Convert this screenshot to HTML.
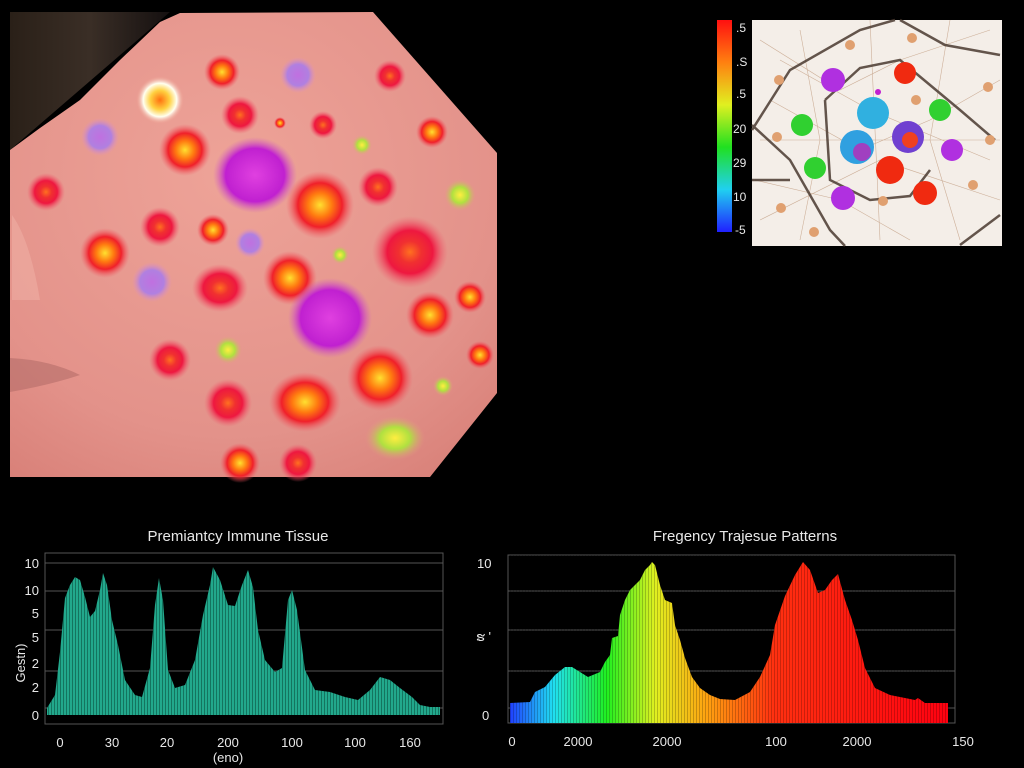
<!DOCTYPE html>
<html><head><meta charset="utf-8"><style>
html,body{margin:0;padding:0;background:#000;width:1024px;height:768px;overflow:hidden}
svg{display:block}
text{font-family:"Liberation Sans",sans-serif;fill:#e8e8e8}
</style></head><body>
<svg width="1024" height="768" viewBox="0 0 1024 768" xmlns="http://www.w3.org/2000/svg">
<defs>
<radialGradient id="skin" cx="0.45" cy="0.35" r="0.8">
<stop offset="0" stop-color="#eea398"/><stop offset="0.7" stop-color="#e3928a"/><stop offset="1" stop-color="#d88078"/></radialGradient>
<radialGradient id="gR"><stop offset="0" stop-color="#ffe030"/><stop offset="0.35" stop-color="#ff7a10"/><stop offset="0.65" stop-color="#f0202a"/><stop offset="1" stop-color="#f0606a" stop-opacity="0"/></radialGradient>
<radialGradient id="gRR"><stop offset="0" stop-color="#ff7020"/><stop offset="0.3" stop-color="#f03030"/><stop offset="0.6" stop-color="#ee1840"/><stop offset="1" stop-color="#f06070" stop-opacity="0"/></radialGradient>
<radialGradient id="gM"><stop offset="0" stop-color="#e040e0"/><stop offset="0.7" stop-color="#c020d0"/><stop offset="1" stop-color="#d060c0" stop-opacity="0"/></radialGradient>
<radialGradient id="gPu"><stop offset="0" stop-color="#c070e0"/><stop offset="0.6" stop-color="#b080e0"/><stop offset="1" stop-color="#e090c0" stop-opacity="0"/></radialGradient>
<radialGradient id="gG"><stop offset="0" stop-color="#ffee40"/><stop offset="0.5" stop-color="#b0e040"/><stop offset="1" stop-color="#e0a080" stop-opacity="0"/></radialGradient>
<radialGradient id="gW"><stop offset="0" stop-color="#ff7010"/><stop offset="0.4" stop-color="#ffd040"/><stop offset="0.7" stop-color="#fffff0"/><stop offset="1" stop-color="#f0a090" stop-opacity="0"/></radialGradient>
<linearGradient id="hair" x1="0" y1="0" x2="1" y2="0"><stop offset="0" stop-color="#2a2018"/><stop offset="0.5" stop-color="#3a2e26"/><stop offset="1" stop-color="#151010"/></linearGradient>
<linearGradient id="spec" x1="510" x2="950" y1="0" y2="0" gradientUnits="userSpaceOnUse">
<stop offset="0" stop-color="#2040ff"/><stop offset="0.1" stop-color="#20e0f0"/><stop offset="0.22" stop-color="#20f020"/><stop offset="0.33" stop-color="#e0f020"/><stop offset="0.45" stop-color="#ffa010"/><stop offset="0.6" stop-color="#ff3010"/><stop offset="1" stop-color="#ff0010"/></linearGradient>
<linearGradient id="cb" x1="0" x2="0" y1="0" y2="1">
<stop offset="0" stop-color="#ff1010"/><stop offset="0.2" stop-color="#ff8010"/><stop offset="0.4" stop-color="#e0f020"/><stop offset="0.6" stop-color="#20e020"/><stop offset="0.8" stop-color="#20d0f0"/><stop offset="1" stop-color="#2020ff"/></linearGradient>
<pattern id="stripe" width="3" height="10" patternUnits="userSpaceOnUse"><rect width="3" height="10" fill="#22a88c"/><rect width="0.7" height="10" fill="#0d5e4c"/></pattern>
<pattern id="stripe2" width="3" height="10" patternUnits="userSpaceOnUse"><rect width="0.6" height="10" fill="#000" opacity="0.35"/></pattern>
</defs>

<!-- top-left skin image -->
<polygon points="10,12 170,12 10,150" fill="url(#hair)"/>
<polygon points="10,150 40,128 80,100 120,60 160,22 180,13 373,12 497,153 497,393 430,477 10,477" fill="url(#skin)"/>
<path d="M10,358 Q50,360 80,375 Q50,385 10,392 Z" fill="#b06a66" opacity="0.55"/>
<path d="M12,215 Q30,240 40,300 L12,300Z" fill="#f6c0b4" opacity="0.35"/>
<g>
<circle cx="160" cy="100" r="24" fill="url(#gW)"/>
<circle cx="222" cy="72" r="18" fill="url(#gR)"/>
<circle cx="298" cy="75" r="18" fill="url(#gPu)"/>
<circle cx="390" cy="76" r="16" fill="url(#gRR)"/>
<circle cx="100" cy="137" r="19" fill="url(#gPu)"/>
<circle cx="240" cy="115" r="19" fill="url(#gRR)"/>
<circle cx="185" cy="150" r="26" fill="url(#gR)"/>
<ellipse cx="255" cy="175" rx="42" ry="38" fill="url(#gM)"/>
<circle cx="323" cy="125" r="14" fill="url(#gRR)"/>
<circle cx="280" cy="123" r="6" fill="url(#gR)"/>
<circle cx="432" cy="132" r="16" fill="url(#gR)"/>
<circle cx="362" cy="145" r="10" fill="url(#gG)"/>
<circle cx="46" cy="192" r="19" fill="url(#gRR)"/>
<circle cx="320" cy="205" r="34" fill="url(#gR)"/>
<circle cx="378" cy="187" r="20" fill="url(#gRR)"/>
<circle cx="460" cy="195" r="16" fill="url(#gG)"/>
<circle cx="105" cy="253" r="25" fill="url(#gR)"/>
<circle cx="160" cy="227" r="20" fill="url(#gRR)"/>
<circle cx="213" cy="230" r="16" fill="url(#gR)"/>
<circle cx="250" cy="243" r="15" fill="url(#gPu)"/>
<circle cx="152" cy="282" r="20" fill="url(#gPu)"/>
<ellipse cx="220" cy="288" rx="28" ry="24" fill="url(#gRR)"/>
<circle cx="290" cy="278" r="27" fill="url(#gR)"/>
<ellipse cx="410" cy="252" rx="38" ry="36" fill="url(#gRR)"/>
<circle cx="340" cy="255" r="9" fill="url(#gG)"/>
<ellipse cx="330" cy="318" rx="42" ry="40" fill="url(#gM)"/>
<circle cx="470" cy="297" r="16" fill="url(#gR)"/>
<circle cx="430" cy="315" r="24" fill="url(#gR)"/>
<circle cx="170" cy="360" r="21" fill="url(#gRR)"/>
<circle cx="228" cy="350" r="14" fill="url(#gG)"/>
<circle cx="380" cy="378" r="33" fill="url(#gR)"/>
<circle cx="480" cy="355" r="14" fill="url(#gR)"/>
<ellipse cx="305" cy="402" rx="36" ry="30" fill="url(#gR)"/>
<circle cx="228" cy="403" r="24" fill="url(#gRR)"/>
<circle cx="443" cy="386" r="10" fill="url(#gG)"/>
<ellipse cx="395" cy="438" rx="30" ry="22" fill="url(#gG)"/>
<circle cx="240" cy="463" r="20" fill="url(#gR)"/>
<circle cx="298" cy="463" r="19" fill="url(#gRR)"/>
</g>

<!-- top-right panel -->
<rect x="717" y="20" width="15" height="212" fill="url(#cb)"/>
<g font-size="12">
<text x="736" y="32">.5</text><text x="736" y="66">.S</text><text x="736" y="98">.5</text>
<text x="733" y="133">20</text><text x="733" y="167">29</text><text x="733" y="201">10</text><text x="735" y="234">-5</text>
</g>
<rect x="752" y="20" width="250" height="226" fill="#f4eee8"/>
<g stroke="#c9a890" stroke-width="0.6" fill="none" opacity="0.9">
<path d="M760,40 L840,90 L900,60 L990,30 M770,100 L860,150 L930,120 L1000,80 M755,180 L840,200 L910,240 M800,30 L820,140 L800,240 M950,20 L930,140 L960,240 M760,220 L880,160 L1000,200 M780,60 L870,110 L990,160 M870,20 L880,240 M760,140 L1000,140"/>
</g>
<g stroke="#4a3a30" stroke-width="2.5" fill="none" opacity="0.85">
<path d="M752,130 L790,70 L860,30 L895,20"/>
<path d="M900,20 L945,45 L1000,55"/>
<path d="M825,100 L860,68 L900,60 L960,110 L995,140"/>
<path d="M752,125 L790,160 L830,230 L845,246"/>
<path d="M825,100 L830,180 L870,200 L910,196 L930,170"/>
<path d="M960,245 L1000,215"/>
<path d="M752,180 L790,180"/>
</g>
<g>
<circle cx="833" cy="80" r="12" fill="#b030e0"/>
<circle cx="905" cy="73" r="11" fill="#f02a10"/>
<circle cx="878" cy="92" r="3" fill="#c020d0"/>
<circle cx="873" cy="113" r="16" fill="#30b0e0"/>
<circle cx="940" cy="110" r="11" fill="#30d030"/>
<circle cx="802" cy="125" r="11" fill="#30d030"/>
<circle cx="908" cy="137" r="16" fill="#7040d0"/><circle cx="910" cy="140" r="8" fill="#f04020"/>
<circle cx="857" cy="147" r="17" fill="#30a0e0"/><circle cx="862" cy="152" r="9" fill="#a040c0"/>
<circle cx="952" cy="150" r="11" fill="#b030e0"/>
<circle cx="890" cy="170" r="14" fill="#f02a10"/>
<circle cx="815" cy="168" r="11" fill="#30d030"/>
<circle cx="925" cy="193" r="12" fill="#f02a10"/>
<circle cx="843" cy="198" r="12" fill="#b030e0"/>
<g fill="#e0a070"><circle cx="779" cy="80" r="5"/><circle cx="850" cy="45" r="5"/><circle cx="912" cy="38" r="5"/><circle cx="988" cy="87" r="5"/><circle cx="916" cy="100" r="5"/><circle cx="777" cy="137" r="5"/><circle cx="990" cy="140" r="5"/><circle cx="973" cy="185" r="5"/><circle cx="883" cy="201" r="5"/><circle cx="781" cy="208" r="5"/><circle cx="814" cy="232" r="5"/></g>
</g>

<!-- bottom-left chart -->
<text x="238" y="541" font-size="15" text-anchor="middle">Premiantcy Immune Tissue</text>
<rect x="45" y="553" width="398" height="171" fill="none" stroke="#555" stroke-width="1"/>
<g stroke="#555" stroke-width="1"><line x1="45" y1="563" x2="443" y2="563"/><line x1="45" y1="591" x2="443" y2="591"/><line x1="45" y1="630" x2="443" y2="630"/><line x1="45" y1="671" x2="443" y2="671"/><line x1="45" y1="708" x2="443" y2="708"/></g>
<polygon fill="url(#stripe)" points="47,715 47,708 55,695 60,652 65,598 70,585 75,577 80,580 85,597 90,617 95,611 100,590 103,573 107,585 112,620 118,645 125,680 135,695 142,697 150,668 155,605 159,578 163,600 168,670 175,688 185,685 195,660 203,615 210,585 213,567 220,580 228,605 235,606 242,585 248,570 253,587 258,630 265,660 275,672 282,668 288,600 292,590 297,610 305,670 315,690 330,692 345,697 358,700 370,690 380,677 390,680 400,688 412,697 420,705 430,707 440,707 440,715"/>
<g font-size="13" text-anchor="end">
<text x="39" y="568">10</text><text x="39" y="595">10</text><text x="39" y="618">5</text><text x="39" y="642">5</text><text x="39" y="668">2</text><text x="39" y="692">2</text><text x="39" y="720">0</text>
</g>
<text transform="translate(25,663) rotate(-90)" font-size="13" text-anchor="middle">Gestn)</text>
<g font-size="13" text-anchor="middle">
<text x="60" y="747">0</text><text x="112" y="747">30</text><text x="167" y="747">20</text><text x="228" y="747">200</text><text x="292" y="747">100</text><text x="355" y="747">100</text><text x="410" y="747">160</text>
<text x="228" y="762">(eno)</text>
</g>

<!-- bottom-right chart -->
<text x="745" y="541" font-size="15" text-anchor="middle">Fregency Trajesue Patterns</text>
<rect x="508" y="555" width="447" height="168" fill="none" stroke="#555" stroke-width="1"/>
<g stroke="#555" stroke-width="1"><line x1="508" y1="591" x2="955" y2="591"/><line x1="508" y1="630" x2="955" y2="630"/><line x1="508" y1="671" x2="955" y2="671"/><line x1="508" y1="708" x2="955" y2="708"/></g>
<polygon fill="url(#spec)" points="510,723 510,703 530,702 535,692 545,687 555,675 565,667 572,667 580,672 588,677 600,672 605,662 610,655 612,638 618,636 620,615 625,600 630,590 635,585 640,580 645,570 650,565 652,562 655,565 660,585 665,600 672,603 675,625 680,640 685,658 692,677 700,688 710,695 720,699 735,700 750,692 760,677 770,655 775,625 785,596 795,575 803,562 810,570 818,593 825,590 832,580 838,574 845,600 852,620 858,640 865,668 875,688 890,695 915,700 918,698 925,703 948,703 948,723"/>
<rect x="510" y="555" width="440" height="168" fill="url(#stripe2)"/>
<g font-size="13">
<text x="477" y="568">10</text><text x="482" y="720">0</text><text x="476" y="641">ຮ '</text>
</g>
<g font-size="13" text-anchor="middle">
<text x="512" y="746">0</text><text x="578" y="746">2000</text><text x="667" y="746">2000</text><text x="776" y="746">100</text><text x="857" y="746">2000</text><text x="963" y="746">150</text>
</g>
</svg>
</body></html>
